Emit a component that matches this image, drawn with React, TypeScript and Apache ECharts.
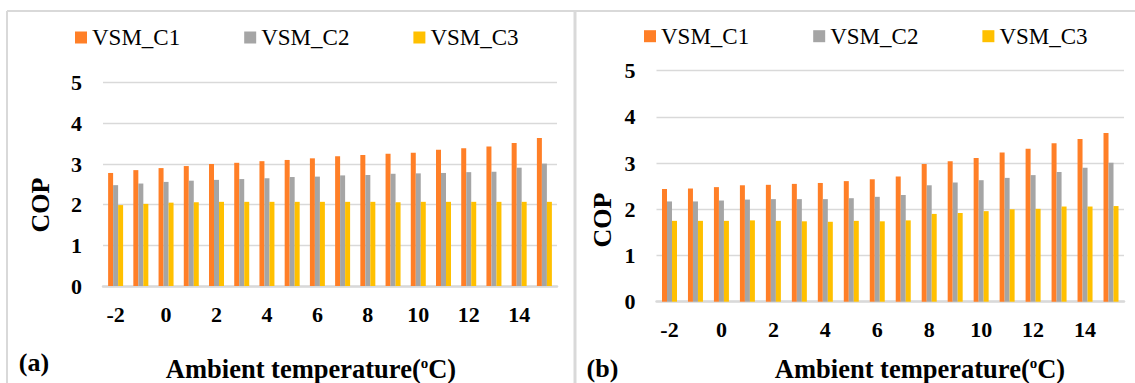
import React, { useEffect, useRef } from 'react';
import * as echarts from 'echarts';

const temps = ['-2', '-1', '0', '1', '2', '3', '4', '5', '6', '7', '8', '9', '10', '11', '12', '13', '14', '15'];
const seriesNames = ['VSM_C1', 'VSM_C2', 'VSM_C3'];
const colors = ['#FF7F27', '#A5A5A5', '#FFC000'];

const aC1 = [2.78, 2.85, 2.9, 2.95, 3.0, 3.03, 3.07, 3.1, 3.14, 3.19, 3.22, 3.25, 3.28, 3.35, 3.39, 3.43, 3.52, 3.64];
const aC2 = [2.48, 2.52, 2.56, 2.59, 2.61, 2.63, 2.65, 2.68, 2.69, 2.72, 2.73, 2.76, 2.77, 2.78, 2.8, 2.81, 2.91, 3.01];
const aC3 = [1.99, 2.02, 2.05, 2.06, 2.07, 2.07, 2.07, 2.07, 2.07, 2.07, 2.07, 2.06, 2.07, 2.07, 2.07, 2.07, 2.07, 2.07];

const bC1 = [2.44, 2.45, 2.48, 2.52, 2.53, 2.55, 2.57, 2.61, 2.65, 2.71, 2.98, 3.04, 3.11, 3.23, 3.31, 3.43, 3.52, 3.65];
const bC2 = [2.17, 2.17, 2.19, 2.21, 2.22, 2.22, 2.22, 2.24, 2.27, 2.31, 2.52, 2.58, 2.63, 2.68, 2.74, 2.81, 2.9, 3.01];
const bC3 = [1.75, 1.75, 1.75, 1.76, 1.75, 1.74, 1.73, 1.75, 1.74, 1.76, 1.9, 1.92, 1.96, 2.0, 2.01, 2.06, 2.06, 2.07];

const yMin = 0;
const yMax = 5;
const yStep = 1;

const xTitle = '{t|Ambient temperature(}{s|o}{t|C)}';
const yTitle = 'COP';
const panelLabels = ['(a)', '(b)'];

const F = 'Liberation Serif, serif';
const GRID_COLOR = '#d9d9d9';

export default function App() {
  const ref = useRef<HTMLDivElement>(null);

  useEffect(() => {
    if (!ref.current) return;
    const chart = echarts.init(ref.current, undefined, { renderer: 'svg' });

    const grids = [
      { left: 103, top: 82.7, width: 454, height: 203.3 },
      { left: 656.5, top: 70.7, width: 467.5, height: 231 },
    ];

    const xAxes = grids.map((_, i) => ({
      type: 'category',
      gridIndex: i,
      data: temps,
      axisLine: { lineStyle: { color: GRID_COLOR, width: 2.5 } },
      axisTick: { show: false },
      axisLabel: {
        interval: 1,
        margin: 17,
        fontSize: 22,
        fontWeight: 'bold',
        fontFamily: F,
        color: '#000',
      },
    }));

    const yAxes = grids.map((_, i) => ({
      type: 'value',
      gridIndex: i,
      min: yMin,
      max: yMax,
      interval: yStep,
      axisLine: { show: false },
      axisTick: { show: false },
      splitLine: { lineStyle: { color: GRID_COLOR, width: 1.3 } },
      axisLabel: {
        margin: 21,
        fontSize: 22,
        fontWeight: 'bold',
        fontFamily: F,
        color: '#000',
      },
    }));

    const dataSets = [
      [aC1, aC2, aC3],
      [bC1, bC2, bC3],
    ];

    const series: any[] = [];
    dataSets.forEach((set, gi) => {
      set.forEach((vals, si) => {
        series.push({
          type: 'bar',
          name: seriesNames[si],
          xAxisIndex: gi,
          yAxisIndex: gi,
          data: vals,
          barWidth: 5,
          barGap: '0%',
          itemStyle: { color: colors[si] },
        });
      });
    });

    const legendBase = {
      orient: 'horizontal',
      padding: 0,
      itemWidth: 12,
      itemHeight: 12,
      itemGap: 64,
      icon: 'rect',
      data: seriesNames,
      textStyle: { fontSize: 23, fontFamily: F, color: '#000' },
    };

    const textStyle = (text: string, size: number) => ({
      text,
      fill: '#000',
      fontSize: size,
      fontWeight: 'bold',
      fontFamily: F,
      align: 'center',
      verticalAlign: 'middle',
      textAlign: 'center',
      textVerticalAlign: 'middle',
    });

    const titleStyle = () => ({
      text: xTitle,
      fill: '#000',
      fontSize: 26.5,
      fontWeight: 'bold',
      fontFamily: F,
      align: 'center',
      verticalAlign: 'middle',
      textAlign: 'center',
      textVerticalAlign: 'middle',
      rich: {
        t: { fontSize: 26.5, fontWeight: 'bold', fontFamily: F, fill: '#000' },
        s: { fontSize: 15, fontWeight: 'bold', fontFamily: F, fill: '#000', verticalAlign: 'top' },
      },
    });

    const lineStyle = { stroke: GRID_COLOR, lineWidth: 2 };

    chart.setOption({
      animation: false,
      backgroundColor: '#ffffff',
      grid: grids,
      xAxis: xAxes,
      yAxis: yAxes,
      legend: [
        { ...legendBase, left: 75, top: 26 },
        { ...legendBase, left: 644, top: 24.7 },
      ],
      series,
      graphic: [
        { type: 'line', shape: { x1: 7, y1: 11, x2: 1135, y2: 11 }, style: lineStyle, silent: true },
        { type: 'line', shape: { x1: 7, y1: 11, x2: 7, y2: 383 }, style: lineStyle, silent: true },
        { type: 'line', shape: { x1: 575, y1: 11, x2: 575, y2: 383 }, style: { stroke: GRID_COLOR, lineWidth: 3 }, silent: true },
        { type: 'text', x: 40, y: 205, rotation: Math.PI / 2, style: textStyle(yTitle, 26) },
        { type: 'text', x: 602, y: 220, rotation: Math.PI / 2, style: textStyle(yTitle, 26) },
        { type: 'text', x: 34, y: 362, style: textStyle(panelLabels[0], 26) },
        { type: 'text', x: 602.5, y: 368, style: textStyle(panelLabels[1], 26) },
        { type: 'text', x: 311, y: 368.5, style: titleStyle() },
        { type: 'text', x: 920, y: 368.5, style: titleStyle() },
      ],
    });

    return () => chart.dispose();
  }, []);

  return (
    <div
      ref={ref}
      style={{ position: 'absolute', left: 0, top: 0, width: 1135, height: 383 }}
    />
  );
}
